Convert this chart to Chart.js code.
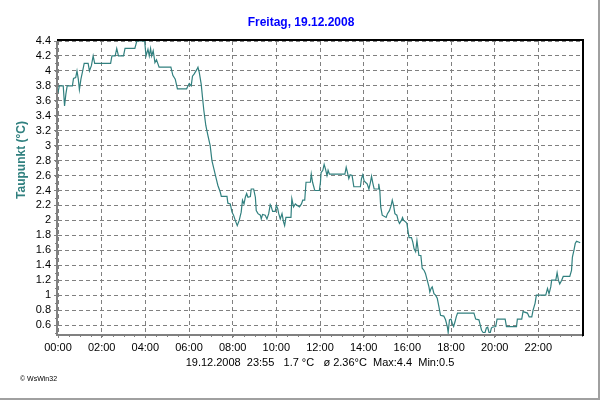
<!DOCTYPE html>
<html>
<head>
<meta charset="utf-8">
<script src="https://cdn.jsdelivr.net/npm/chart.js"></script>
<style>
  body { margin: 0; background: #fff; }
  #wrap { width: 600px; height: 400px; }
</style>
</head>
<body>
<div id="wrap"><canvas id="myChart" width="600" height="400"></canvas></div>
<script>
// Taupunkt 19.12.2008, Stunden seit Mitternacht / Wert in °C
const hours = [
  0, 0.06, 0.24, 0.3, 0.36, 0.42, 0.66, 0.71, 0.81, 0.87, 0.93, 0.98, 1.05, 1.13, 1.2, 1.38, 1.44, 1.53, 1.61, 1.68,
  2.41, 2.47, 2.62, 2.69, 2.77, 3.0, 3.07, 3.52, 3.61, 3.97, 4.03, 4.12, 4.18, 4.24, 4.29, 4.36, 4.44, 4.51, 4.57, 4.63,
  5.17, 5.26, 5.37, 5.47, 5.89, 6.01, 6.1, 6.16, 6.24, 6.36, 6.41, 6.47, 6.56, 6.62, 6.68, 6.77, 6.87, 6.97, 7.05, 7.14,
  7.23, 7.32, 7.43, 7.48, 7.74, 7.78, 7.89, 7.97, 8.04, 8.12, 8.21, 8.3, 8.39, 8.45, 8.52, 8.58, 8.64, 8.7, 8.81, 8.85,
  8.96, 9.04, 9.08, 9.16, 9.27, 9.31, 9.37, 9.49, 9.57, 9.65, 9.72, 9.77, 9.83, 9.95, 10.0, 10.06, 10.11, 10.18, 10.26, 10.33,
  10.38, 10.44, 10.67, 10.71, 10.79, 10.87, 10.96, 11.06, 11.15, 11.21, 11.3, 11.36, 11.56, 11.6, 11.66, 11.76, 11.97, 12.02, 12.05, 12.13,
  12.19, 12.25, 12.32, 12.37, 12.43, 13.14, 13.2, 13.26, 13.32, 13.38, 13.47, 13.55, 13.85, 13.9, 13.96, 14.02, 14.08, 14.16, 14.24, 14.31,
  14.36, 14.42, 14.48, 14.68, 14.69, 14.74, 14.78, 14.85, 15.03, 15.09, 15.18, 15.26, 15.31, 15.37, 15.43, 15.52, 15.58, 15.64, 15.73, 15.78,
  15.83, 15.92, 15.98, 16.04, 16.08, 16.19, 16.25, 16.31, 16.38, 16.44, 16.48, 16.53, 16.62, 16.68, 16.77, 16.83, 16.91, 16.99, 17.03, 17.09,
  17.14, 17.22, 17.29, 17.37, 17.45, 17.52, 17.67, 17.75, 17.83, 17.87, 17.93, 18.0, 18.06, 18.12, 18.18, 18.24, 18.3, 19.05, 19.13, 19.28,
  19.34, 19.4, 19.47, 19.56, 19.62, 19.68, 19.74, 19.8, 19.85, 19.89, 20.05, 20.11, 20.48, 20.54, 21.0, 21.04, 21.24, 21.3, 21.5, 21.58,
  21.7, 21.76, 21.85, 21.91, 22.34, 22.42, 22.49, 22.57, 22.61, 22.8, 22.86, 22.92, 22.98, 23.07, 23.14, 23.44, 23.52, 23.56, 23.63, 23.69,
  23.75, 23.84, 23.92
];
const taupunkt = [
  3.71, 3.8, 3.8, 3.53, 3.69, 3.8, 3.8, 3.9, 3.91, 4.0, 3.89, 3.75, 3.89, 4.0, 4.1, 4.1, 4.0, 4.07, 4.2, 4.1,
  4.1, 4.2, 4.2, 4.3, 4.2, 4.2, 4.3, 4.3, 4.4, 4.4, 4.2, 4.29, 4.2, 4.3, 4.2, 4.27, 4.11, 4.15, 4.1, 4.05,
  4.05, 3.94, 3.89, 3.76, 3.76, 3.83, 3.8, 3.93, 3.96, 4.02, 4.05, 3.98, 3.82, 3.64, 3.47, 3.27, 3.13, 3.0, 2.8, 2.69,
  2.58, 2.47, 2.38, 2.32, 2.32, 2.23, 2.22, 2.11, 2.07, 2.0, 1.93, 2.0, 2.11, 2.27, 2.22, 2.31, 2.36, 2.31, 2.32, 2.42,
  2.42, 2.31, 2.13, 2.09, 2.07, 2.02, 2.08, 2.07, 2.02, 2.09, 2.21, 2.18, 2.12, 2.12, 2.2, 2.16, 2.09, 2.02, 2.09, 1.98,
  1.93, 2.04, 2.04, 2.29, 2.18, 2.22, 2.2, 2.18, 2.22, 2.27, 2.27, 2.51, 2.51, 2.62, 2.51, 2.4, 2.4, 2.51, 2.64, 2.67,
  2.75, 2.69, 2.6, 2.67, 2.62, 2.62, 2.71, 2.64, 2.56, 2.61, 2.6, 2.45, 2.45, 2.56, 2.61, 2.53, 2.51, 2.49, 2.42, 2.51,
  2.59, 2.5, 2.42, 2.42, 2.49, 2.4, 2.18, 2.07, 2.04, 2.09, 2.13, 2.2, 2.27, 2.2, 2.09, 2.07, 2.0, 1.96, 2.0, 2.04,
  2.0, 1.98, 1.96, 1.84, 1.77, 1.77, 1.71, 1.62, 1.58, 1.73, 1.64, 1.53, 1.53, 1.36, 1.33, 1.29, 1.2, 1.11, 1.04, 1.09,
  1.11, 1.02, 1.0, 0.96, 0.84, 0.73, 0.72, 0.67, 0.58, 0.5, 0.67, 0.68, 0.62, 0.58, 0.64, 0.71, 0.76, 0.76, 0.68, 0.67,
  0.6, 0.53, 0.5, 0.5, 0.56, 0.57, 0.5, 0.5, 0.56, 0.57, 0.58, 0.68, 0.68, 0.58, 0.58, 0.68, 0.68, 0.78, 0.76, 0.71,
  0.71, 0.8, 0.89, 1.0, 1.0, 1.09, 1.02, 1.11, 1.2, 1.2, 1.3, 1.2, 1.15, 1.2, 1.25, 1.25, 1.33, 1.51, 1.6, 1.69,
  1.72, 1.71, 1.7
];
const xTicks = [0, 2, 4, 6, 8, 10, 12, 14, 16, 18, 20, 22];
const xTickLabels = ['00:00', '02:00', '04:00', '06:00', '08:00', '10:00', '12:00', '14:00', '16:00', '18:00', '20:00', '22:00'];
const yTicks = [0.6, 0.8, 1, 1.2, 1.4, 1.6, 1.8, 2, 2.2, 2.4, 2.6, 2.8, 3, 3.2, 3.4, 3.6, 3.8, 4, 4.2, 4.4];

const titleText = 'Freitag, 19.12.2008';
const yTitle = 'Taupunkt (°C)';
const footerText = '19.12.2008  23:55   1.7 °C   ø 2.36°C  Max:4.4  Min:0.5';
const copyText = '© WsWin32';

const FONT = '"Liberation Sans", Arial, sans-serif';
const TEAL = '#31807f';

// Rahmen, Beschriftungen und Zwischenstriche
const decor = {
  id: 'decor',
  beforeDraw(chart) {
    const ctx = chart.ctx;
    ctx.save();
    ctx.fillStyle = '#fff';
    ctx.fillRect(0, 0, chart.width, chart.height);
    ctx.restore();
  },
  beforeDatasetsDraw(chart) {
    const ctx = chart.ctx;
    const a = chart.chartArea;
    const xs = chart.scales.x, ys = chart.scales.y;
    ctx.save();
    // Zwischenstriche unten (alle 30 min)
    ctx.strokeStyle = '#808080';
    ctx.lineWidth = 1;
    ctx.beginPath();
    for (let h = 0; h <= 24; h += 0.5) {
      const px = Math.round(xs.getPixelForValue(h)) + 0.5;
      ctx.moveTo(px, a.bottom);
      ctx.lineTo(px, a.bottom + 3);
    }
    // Zwischenstriche links (alle 0.1)
    for (let v = 0.5; v <= 4.41; v += 0.1) {
      const py = Math.round(ys.getPixelForValue(v)) + 0.5;
      ctx.moveTo(a.left - 3, py);
      ctx.lineTo(a.left, py);
    }
    ctx.stroke();
    // Achsen grau
    ctx.lineWidth = 2;
    ctx.beginPath();
    ctx.moveTo(a.left - 1, a.top);
    ctx.lineTo(a.left - 1, a.bottom + 1);
    ctx.lineTo(a.right, a.bottom + 1);
    ctx.stroke();
    // oben / rechts schwarz
    ctx.strokeStyle = '#000';
    ctx.beginPath();
    ctx.moveTo(a.left - 1, a.top - 1);
    ctx.lineTo(a.right + 1, a.top - 1);
    ctx.lineTo(a.right + 1, a.bottom + 2);
    ctx.stroke();
    ctx.restore();
  },
  afterDraw(chart) {
    const ctx = chart.ctx;
    const a = chart.chartArea;
    ctx.save();
    ctx.textAlign = 'center';
    ctx.textBaseline = 'middle';
    ctx.fillStyle = '#0000ff';
    ctx.font = 'bold 12px ' + FONT;
    ctx.fillText(titleText, 301, 23);

    ctx.fillStyle = '#000';
    ctx.font = '11px ' + FONT;
    ctx.fillText(footerText, (a.left + a.right) / 2, 363);

    ctx.textAlign = 'left';
    ctx.font = '7px ' + FONT;
    ctx.fillText(copyText, 20, 379);

    ctx.translate(22, 160);
    ctx.rotate(-Math.PI / 2);
    ctx.textAlign = 'center';
    ctx.fillStyle = TEAL;
    ctx.font = 'bold 12px ' + FONT;
    ctx.fillText(yTitle, 0, 0);
    ctx.restore();

    // äußerer Rand
    ctx.save();
    ctx.strokeStyle = '#a0a0a0';
    ctx.lineWidth = 2;
    ctx.beginPath();
    ctx.moveTo(599, 0);
    ctx.lineTo(599, 399);
    ctx.lineTo(0, 399);
    ctx.stroke();
    ctx.restore();
  }
};

const ctx = document.getElementById('myChart').getContext('2d');
new Chart(ctx, {
  type: 'line',
  data: {
    datasets: [{
      label: 'Taupunkt',
      data: hours.map((h, i) => ({ x: h, y: taupunkt[i] })),
      borderColor: TEAL,
      borderWidth: 1.2,
      pointRadius: 0,
      tension: 0,
      fill: false
    }]
  },
  options: {
    responsive: false,
    animation: false,
    layout: { padding: { top: 41, right: 18, left: 0, bottom: 0 } },
    plugins: {
      legend: { display: false },
      tooltip: { enabled: false },
      title: { display: false }
    },
    scales: {
      x: {
        type: 'linear',
        min: 0,
        max: 24,
        afterBuildTicks: s => { s.ticks = xTicks.map(v => ({ value: v })); },
        afterFit: s => { s.height = 66; },
        ticks: {
          autoSkip: false,
          maxRotation: 0,
          padding: 3,
          color: '#000',
          font: { family: FONT, size: 11 },
          callback: (v, i) => xTickLabels[i]
        },
        grid: { color: '#808080', lineWidth: 1, tickLength: 4, tickColor: '#808080' },
        border: { display: false, dash: [4, 3] }
      },
      y: {
        min: 0.48,
        max: 4.4,
        afterBuildTicks: s => { s.ticks = yTicks.map(v => ({ value: v })); },
        afterFit: s => { s.width = 58; },
        ticks: {
          autoSkip: false,
          padding: 3,
          color: '#000',
          font: { family: FONT, size: 11 },
          callback: v => String(Number(v.toFixed(1)))
        },
        grid: { color: '#808080', lineWidth: 1, tickLength: 4, tickColor: '#808080' },
        border: { display: false, dash: [4, 3] }
      }
    }
  },
  plugins: [decor]
});
</script>
</body>
</html>
